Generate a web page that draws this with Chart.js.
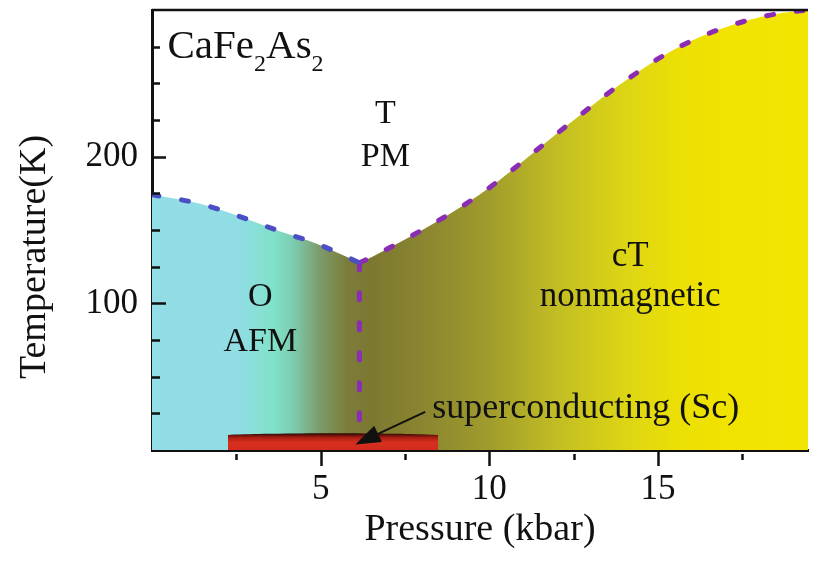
<!DOCTYPE html>
<html>
<head>
<meta charset="utf-8">
<title>CaFe2As2 phase diagram</title>
<script src="https://cdn.jsdelivr.net/npm/chart.js@4.4.0/dist/chart.umd.min.js"></script>
<style>
  html, body { margin: 0; padding: 0; background: #fff; }
  #wrap { width: 823px; height: 563px; position: relative; }
</style>
</head>
<body>
<div id="wrap"><canvas id="phaseChart"></canvas></div>
<script>
// values: pressure in kbar, temperature in K
const afmPressure = [0, 1.4, 2.5, 3.8, 4.9, 5.7, 6.15];
const afmTemp     = [174, 168, 160, 149, 140.5, 132.5, 127.6];

const ctPressure = [6.15, 6.55, 7.5, 8.35, 9.25, 10.1, 10.9, 11.75, 12.65, 13.45, 14.3, 15.1, 16.0, 16.85, 17.75, 18.55, 19.45];
const ctTemp     = [127.6, 132, 143.5, 154.5, 167, 180.5, 195, 211, 227.5, 242, 256, 268, 279, 287, 293.5, 297.5, 300];

const splitPressure = [6.15, 6.15];
const splitTemp     = [127.6, 11];

const scPressure = [2.25, 3.5, 5.35, 7.2, 8.48];
const scTemp     = [10.3, 11, 11.4, 11, 10.3];

const xTicks = [2.5, 5, 7.5, 10, 12.5, 15, 17.5];
const xTickLabels = [5, 10, 15];
const yTicks = [25, 50, 75, 100, 125, 150, 175, 200, 225, 250, 275];
const yTickLabels = [100, 200];

const P_MAX = 19.45;
const T_MAX = 300;
const SERIF = '"Liberation Serif", "Times New Roman", serif';
const INK = '#111';

// colour along the pressure axis [kbar, colour]
const phaseStops = [
    [0, '#93dde6'], [2.6, '#90dde4'], [3.6, '#80e2c9'], [4.2, '#7ccbb0'],
    [5.0, '#7c9a68'], [5.8, '#7c7c3a'], [6.5, '#7c7830'], [8.0, '#8a8530'],
    [10.0, '#a09c2c'], [12.0, '#c2bd24'], [14.0, '#dcd514'], [15.5, '#ebdf06'],
    [17.0, '#f0e300'], [19.45, '#f2e500']
];

// text placed in data units
const notes = [
    { text: 'T', p: 6.92, t: 222.8, size: 34, align: 'center' },
    { text: 'PM', p: 6.92, t: 193.5, size: 34, align: 'center' },
    { text: 'O', p: 3.21, t: 98.3, size: 34, align: 'center' },
    { text: 'AFM', p: 3.21, t: 67.7, size: 34, align: 'center' },
    { text: 'cT', p: 14.18, t: 125.5, size: 35, align: 'center' },
    { text: 'nonmagnetic', p: 14.18, t: 98.3, size: 35, align: 'center' },
    { text: 'superconducting (Sc)', p: 8.31, t: 22.1, size: 36, align: 'left' }
];
const arrowFrom = [8.1, 26];
const arrowTo = [6.03, 3.8];

const toPoints = (xs, ys) => xs.map((x, i) => ({ x: x, y: ys[i] }));

function phaseGradient(context) {
    const chart = context.chart;
    const { ctx, chartArea, scales } = chart;
    if (!chartArea) return null;
    const x0 = scales.x.getPixelForValue(0);
    const x1 = scales.x.getPixelForValue(P_MAX);
    const g = ctx.createLinearGradient(x0, 0, x1, 0);
    phaseStops.forEach(([p, c]) => g.addColorStop(p / P_MAX, c));
    return g;
}

function scGradient(context) {
    const chart = context.chart;
    const { ctx, chartArea, scales } = chart;
    if (!chartArea) return null;
    const y0 = scales.y.getPixelForValue(11.4);
    const y1 = scales.y.getPixelForValue(0);
    const g = ctx.createLinearGradient(0, y0, 0, y1);
    g.addColorStop(0, '#2a0804');
    g.addColorStop(0.25, '#a81e12');
    g.addColorStop(0.55, '#d8301f');
    g.addColorStop(1, '#d42c1c');
    return g;
}

const dashed = (color) => ({
    borderColor: color,
    borderWidth: 5,
    borderDash: [7, 23],
    borderCapStyle: 'round',
    fill: false,
    pointRadius: 0,
    order: 1
});

// ticks, frame, labels and arrow drawn on top
const overlay = {
    id: 'overlay',
    afterDraw(chart) {
        const { ctx, chartArea: a, scales: { x, y } } = chart;
        ctx.save();
        ctx.strokeStyle = INK;
        ctx.lineWidth = 2.5;
        ctx.beginPath();
        ctx.moveTo(a.left, a.top);
        ctx.lineTo(a.right, a.top);
        ctx.stroke();

        ctx.beginPath();
        yTicks.forEach(v => {
            const py = Math.round(y.getPixelForValue(v)) + 0.5;
            const len = yTickLabels.includes(v) ? 14 : 8;
            ctx.moveTo(a.left, py);
            ctx.lineTo(a.left + len, py);
        });
        xTicks.forEach(v => {
            const px = Math.round(x.getPixelForValue(v)) + 0.5;
            const major = xTickLabels.includes(v);
            ctx.moveTo(px, a.bottom + (major ? 2 : 4));
            ctx.lineTo(px, a.bottom + (major ? 16 : 10));
        });
        ctx.stroke();

        // y title
        ctx.fillStyle = INK;
        ctx.save();
        ctx.translate(35, (a.top + a.bottom) / 2 + 27);
        ctx.rotate(-Math.PI / 2);
        ctx.font = '38px ' + SERIF;
        ctx.textAlign = 'center';
        ctx.textBaseline = 'middle';
        ctx.fillText('Temperature(K)', 0, 0);
        ctx.restore();

        // region labels
        ctx.textBaseline = 'alphabetic';
        notes.forEach(n => {
            ctx.font = n.size + 'px ' + SERIF;
            ctx.textAlign = n.align;
            ctx.fillText(n.text, x.getPixelForValue(n.p), y.getPixelForValue(n.t));
        });

        // compound name with subscripts
        let cx = x.getPixelForValue(0.46);
        const cy = y.getPixelForValue(267);
        ctx.textAlign = 'left';
        [['CaFe', false], ['2', true], ['As', false], ['2', true]].forEach(([s, sub]) => {
            ctx.font = (sub ? 24 : 41) + 'px ' + SERIF;
            ctx.fillText(s, cx, cy + (sub ? 13 : 0));
            cx += ctx.measureText(s).width;
        });

        // arrow to the superconducting dome
        const sx = x.getPixelForValue(arrowFrom[0]), sy = y.getPixelForValue(arrowFrom[1]);
        const tx = x.getPixelForValue(arrowTo[0]), ty = y.getPixelForValue(arrowTo[1]);
        const ang = Math.atan2(ty - sy, tx - sx);
        const headLen = 25, headW = 9;
        const bx = tx - headLen * Math.cos(ang), by = ty - headLen * Math.sin(ang);
        ctx.lineWidth = 2;
        ctx.beginPath();
        ctx.moveTo(sx, sy);
        ctx.lineTo(bx, by);
        ctx.stroke();
        ctx.beginPath();
        ctx.moveTo(tx, ty);
        ctx.lineTo(bx + headW * Math.sin(ang), by - headW * Math.cos(ang));
        ctx.lineTo(bx - headW * Math.sin(ang), by + headW * Math.cos(ang));
        ctx.closePath();
        ctx.fill();
        ctx.restore();
    }
};

const chart = new Chart(document.getElementById('phaseChart'), {
    type: 'line',
    data: {
        datasets: [
            Object.assign({ data: toPoints(afmPressure, afmTemp), cubicInterpolationMode: 'monotone' }, dashed('#4b4fc4')),
            Object.assign({ data: toPoints(ctPressure, ctTemp), cubicInterpolationMode: 'monotone' }, dashed('#8b2cb4')),
            Object.assign({ data: toPoints(splitPressure, splitTemp) }, dashed('#8b2cb4')),
            {
                data: toPoints(scPressure, scTemp),
                backgroundColor: scGradient,
                borderWidth: 0,
                fill: 'origin',
                tension: 0.4,
                pointRadius: 0,
                order: 3
            },
            {
                // hides the seam where the two filled regions meet
                data: toPoints(splitPressure, splitTemp),
                borderColor: phaseGradient,
                borderWidth: 3,
                fill: false,
                pointRadius: 0,
                order: 4
            },
            {
                data: toPoints(afmPressure, afmTemp),
                backgroundColor: phaseGradient,
                borderWidth: 0,
                fill: 'origin',
                cubicInterpolationMode: 'monotone',
                pointRadius: 0,
                order: 5
            },
            {
                data: toPoints(ctPressure, ctTemp),
                backgroundColor: phaseGradient,
                borderWidth: 0,
                fill: 'origin',
                cubicInterpolationMode: 'monotone',
                pointRadius: 0,
                order: 5
            }
        ]
    },
    options: {
        responsive: true,
        maintainAspectRatio: false,
        animation: false,
        events: [],
        layout: { padding: { top: 10, right: 15, bottom: 0, left: 0 } },
        plugins: {
            legend: { display: false },
            tooltip: { enabled: false }
        },
        scales: {
            x: {
                type: 'linear',
                min: 0,
                max: P_MAX,
                z: 1,
                afterBuildTicks: s => { s.ticks = xTickLabels.map(v => ({ value: v })); },
                afterFit: s => { s.height = 113; s.paddingLeft = 0; s.paddingRight = 0; },
                grid: { display: false, drawTicks: false },
                border: { display: true, color: INK, width: 3 },
                ticks: { font: { family: SERIF, size: 35 }, color: INK, padding: 19, maxRotation: 0, autoSkip: false },
                title: {
                    display: true,
                    text: 'Pressure (kbar)',
                    color: INK,
                    font: { family: SERIF, size: 38, lineHeight: 1 },
                    padding: { top: 0, bottom: 14 }
                }
            },
            y: {
                type: 'linear',
                min: 0,
                max: T_MAX,
                z: 1,
                afterBuildTicks: s => { s.ticks = yTickLabels.map(v => ({ value: v })); },
                afterFit: s => { s.width = 152; s.paddingTop = 0; s.paddingBottom = 0; },
                grid: { display: false, drawTicks: false },
                border: { display: true, color: INK, width: 3 },
                ticks: { font: { family: SERIF, size: 35 }, color: INK, padding: 14, autoSkip: false }
            }
        }
    },
    plugins: [overlay]
});
</script>
</body>
</html>
